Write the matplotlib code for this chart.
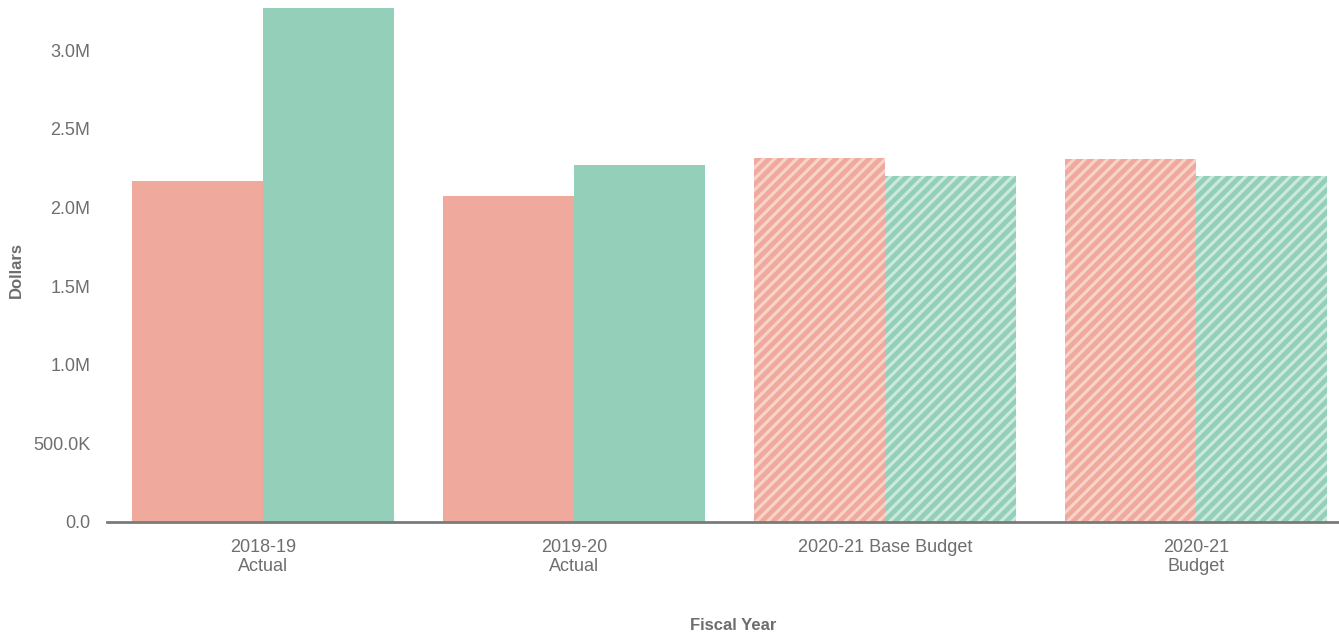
import matplotlib
matplotlib.use("Agg")
import matplotlib.pyplot as plt
import numpy as np
from matplotlib.ticker import FuncFormatter

plt.rcParams['font.family'] = ['Liberation Sans', 'DejaVu Sans']
plt.rcParams['hatch.linewidth'] = 2.2

categories = ["2018-19\nActual", "2019-20\nActual", "2020-21 Base Budget", "2020-21\nBudget"]
series_a = [2168000, 2072000, 2314000, 2308000]
series_b = [3268000, 2270000, 2200000, 2200000]
hatched = [False, False, True, True]

color_a = "#efaa9d"
color_b = "#94cfba"
hatch_a = "#f8d3ca"
hatch_b = "#cbeadd"
text_gray = "#6e6e6e"

fig = plt.figure(figsize=(13.39, 6.37), dpi=100)
ax = fig.add_axes([107 / 1339, (637 - 522) / 637, 1 - 107 / 1339, (522 - 8) / 637])

x = np.arange(len(categories))
w = 0.42
for i in range(len(categories)):
    for val, off, col, hcol in ((series_a[i], -w / 2, color_a, hatch_a),
                                (series_b[i], w / 2, color_b, hatch_b)):
        if hatched[i]:
            ax.bar(x[i] + off, val, width=w, color=col, edgecolor=hcol,
                   hatch="///", linewidth=0)
        else:
            ax.bar(x[i] + off, val, width=w, color=col, linewidth=0)

ax.set_xlim(-0.5016, 3.46)
ax.set_ylim(0, 3268000)
ax.set_yticks([0, 500000, 1000000, 1500000, 2000000, 2500000, 3000000])


def fmt(v, pos):
    if v == 0:
        return "0.0"
    if v >= 1e6:
        return f"{v / 1e6:.1f}M"
    return f"{v / 1e3:.1f}K"


ax.yaxis.set_major_formatter(FuncFormatter(fmt))
ax.set_xticks(x)
ax.set_xticklabels(categories)
ax.tick_params(axis='both', length=0, labelsize=13, labelcolor=text_gray)
ax.tick_params(axis='y', pad=12)
ax.tick_params(axis='x', pad=12)

for s in ("top", "right", "left"):
    ax.spines[s].set_visible(False)
ax.spines["bottom"].set_color("#7a7a7a")
ax.spines["bottom"].set_linewidth(2)

ax.set_ylabel("Dollars", fontsize=12, fontweight="bold", color=text_gray,
              va="center", ha="center")
ax.set_xlabel("Fiscal Year", fontsize=12, fontweight="bold", color=text_gray)
ax.yaxis.set_label_coords((16 - 107) / 1232, (522 - 270) / 514)
ax.xaxis.set_label_coords(0.508, -0.187)

fig.savefig("out.png", dpi=100)
